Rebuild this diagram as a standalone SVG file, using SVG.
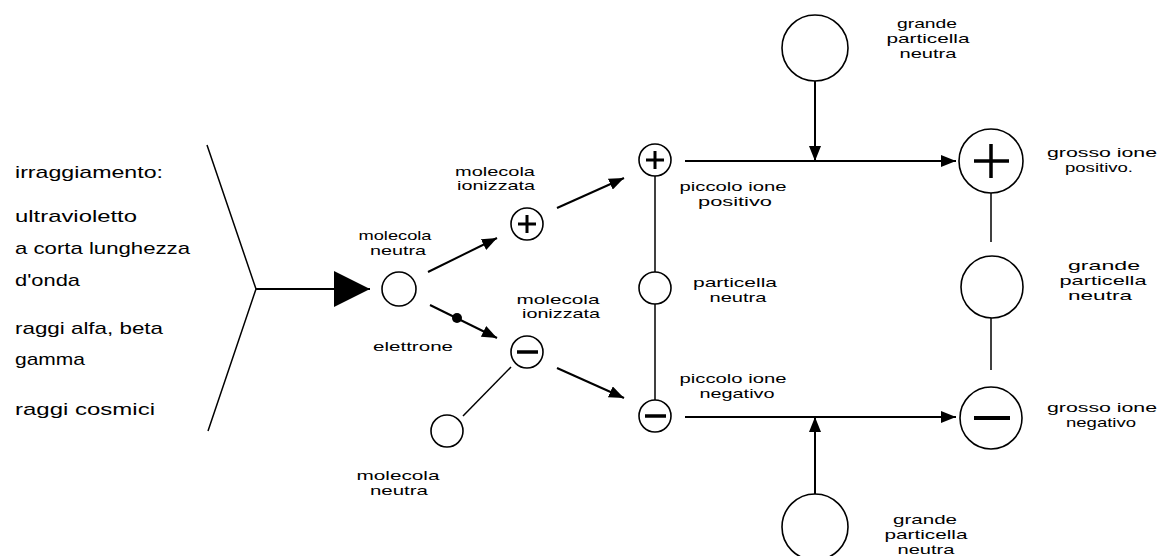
<svg xmlns="http://www.w3.org/2000/svg" width="1159" height="556" viewBox="0 0 1159 556">
<defs>
<style>
.bg{fill:#fff}
.c{fill:#fff;stroke:#000;stroke-width:1.6}
.sign{stroke:#000;fill:none}
.ln{stroke:#000;stroke-width:2;fill:none}
.thin{stroke:#000;stroke-width:1.5;fill:none}
.t{font-family:"Liberation Sans",Arial,sans-serif;font-size:17px;fill:#000}
.l{font-family:"Liberation Sans",Arial,sans-serif;font-size:13px;fill:#000;text-anchor:middle}
</style>
<marker id="ah" markerUnits="userSpaceOnUse" markerWidth="16" markerHeight="12" refX="15" refY="6" orient="auto">
<path d="M0,0 L15,6 L0,12 Z" fill="#000"/>
</marker>
<marker id="big" markerUnits="userSpaceOnUse" markerWidth="38" markerHeight="36" refX="36" refY="18" orient="auto">
<path d="M0,0 L36,18 L0,36 Z" fill="#000"/>
</marker>
</defs>
<rect class="bg" x="0" y="0" width="1159" height="556"/>

<g id="radiation-text">
<text class="t" x="15" y="178" textLength="148" lengthAdjust="spacingAndGlyphs">irraggiamento:</text>
<text class="t" x="15" y="222" textLength="122" lengthAdjust="spacingAndGlyphs">ultravioletto</text>
<text class="t" x="15" y="254" textLength="175" lengthAdjust="spacingAndGlyphs">a corta lunghezza</text>
<text class="t" x="15" y="286" textLength="65" lengthAdjust="spacingAndGlyphs">d'onda</text>
<text class="t" x="15" y="334" textLength="148" lengthAdjust="spacingAndGlyphs">raggi alfa, beta</text>
<text class="t" x="15" y="365" textLength="70" lengthAdjust="spacingAndGlyphs">gamma</text>
<text class="t" x="15" y="415" textLength="140" lengthAdjust="spacingAndGlyphs">raggi cosmici</text>
</g>

<g id="connectors">
<polyline class="thin" points="207,145 256,289 208,431"/>
<line class="ln" x1="256" y1="289" x2="370" y2="289" marker-end="url(#big)"/>
<line class="ln" x1="428" y1="272" x2="497" y2="238" marker-end="url(#ah)"/>
<line class="ln" x1="430" y1="305" x2="497" y2="338" marker-end="url(#ah)"/>
<circle cx="457" cy="318" r="5" fill="#000"/>
<line class="thin" x1="511" y1="367" x2="463" y2="416"/>
<line class="ln" x1="557" y1="208" x2="624" y2="178" marker-end="url(#ah)"/>
<line class="ln" x1="557" y1="368" x2="624" y2="398" marker-end="url(#ah)"/>
<line class="thin" x1="655" y1="176" x2="655" y2="272"/>
<line class="thin" x1="655" y1="304" x2="655" y2="400"/>
<line class="ln" x1="685" y1="161" x2="956" y2="161" marker-end="url(#ah)"/>
<line class="ln" x1="815" y1="81" x2="815" y2="161" marker-end="url(#ah)"/>
<line class="ln" x1="685" y1="417" x2="956" y2="417" marker-end="url(#ah)"/>
<line class="ln" x1="815" y1="494" x2="815" y2="417" marker-end="url(#ah)"/>
<line class="thin" x1="991" y1="193" x2="991" y2="242"/>
<line class="thin" x1="991" y1="318" x2="991" y2="370"/>
</g>

<g id="molecola-neutra-1">
<circle class="c" cx="399" cy="289" r="17"/>
<text class="l" x="395" y="240" textLength="73" lengthAdjust="spacingAndGlyphs">molecola</text>
<text class="l" x="398" y="255" textLength="56" lengthAdjust="spacingAndGlyphs">neutra</text>
</g>

<g id="molecola-ionizzata-pos">
<circle class="c" cx="527" cy="224" r="16"/>
<path class="sign" stroke-width="3" d="M518,224 H536 M527,215 V233"/>
<text class="l" x="495" y="176" textLength="80" lengthAdjust="spacingAndGlyphs">molecola</text>
<text class="l" x="496" y="190" textLength="78" lengthAdjust="spacingAndGlyphs">ionizzata</text>
</g>

<g id="molecola-ionizzata-neg">
<circle class="c" cx="527" cy="352" r="16"/>
<path class="sign" stroke-width="3.5" d="M517,352 H538"/>
<text class="l" x="558" y="304" textLength="83" lengthAdjust="spacingAndGlyphs">molecola</text>
<text class="l" x="561" y="318" textLength="78" lengthAdjust="spacingAndGlyphs">ionizzata</text>
</g>

<g id="elettrone">
<text class="l" x="413" y="351" textLength="80" lengthAdjust="spacingAndGlyphs">elettrone</text>
</g>

<g id="molecola-neutra-2">
<circle class="c" cx="447" cy="431" r="16"/>
<text class="l" x="398" y="480" textLength="83" lengthAdjust="spacingAndGlyphs">molecola</text>
<text class="l" x="399" y="495" textLength="58" lengthAdjust="spacingAndGlyphs">neutra</text>
</g>

<g id="piccolo-ione-positivo">
<circle class="c" cx="655" cy="160" r="16"/>
<path class="sign" stroke-width="3" d="M646,160 H664 M655,151 V169"/>
<text class="l" x="733" y="191" textLength="107" lengthAdjust="spacingAndGlyphs">piccolo ione</text>
<text class="l" x="735" y="206" textLength="74" lengthAdjust="spacingAndGlyphs">positivo</text>
</g>

<g id="particella-neutra">
<circle class="c" cx="655" cy="288" r="16"/>
<text class="l" x="735" y="287" textLength="84" lengthAdjust="spacingAndGlyphs">particella</text>
<text class="l" x="738" y="302" textLength="57" lengthAdjust="spacingAndGlyphs">neutra</text>
</g>

<g id="piccolo-ione-negativo">
<circle class="c" cx="655" cy="416" r="16"/>
<path class="sign" stroke-width="3.5" d="M645,416 H666"/>
<text class="l" x="733" y="383" textLength="107" lengthAdjust="spacingAndGlyphs">piccolo ione</text>
<text class="l" x="737" y="398" textLength="75" lengthAdjust="spacingAndGlyphs">negativo</text>
</g>

<g id="grande-particella-top">
<circle class="c" cx="815" cy="48" r="33"/>
<text class="l" x="927" y="28" textLength="60" lengthAdjust="spacingAndGlyphs">grande</text>
<text class="l" x="928" y="43" textLength="83" lengthAdjust="spacingAndGlyphs">particella</text>
<text class="l" x="928" y="58" textLength="57" lengthAdjust="spacingAndGlyphs">neutra</text>
</g>

<g id="grande-particella-bottom">
<circle class="c" cx="815" cy="527" r="33"/>
<text class="l" x="925" y="524" textLength="64" lengthAdjust="spacingAndGlyphs">grande</text>
<text class="l" x="926" y="539" textLength="83" lengthAdjust="spacingAndGlyphs">particella</text>
<text class="l" x="926" y="554" textLength="57" lengthAdjust="spacingAndGlyphs">neutra</text>
</g>

<g id="grosso-ione-positivo">
<circle class="c" cx="991" cy="161" r="32"/>
<path class="sign" stroke-width="3.5" d="M974,161 H1009 M991,144 V178"/>
<text class="l" x="1102" y="157" textLength="110" lengthAdjust="spacingAndGlyphs">grosso ione</text>
<text class="l" x="1099" y="172" textLength="68" lengthAdjust="spacingAndGlyphs">positivo.</text>
</g>

<g id="grande-particella-neutra">
<circle class="c" cx="992" cy="287" r="31"/>
<text class="l" x="1104" y="270" textLength="72" lengthAdjust="spacingAndGlyphs">grande</text>
<text class="l" x="1103" y="285" textLength="87" lengthAdjust="spacingAndGlyphs">particella</text>
<text class="l" x="1100" y="300" textLength="64" lengthAdjust="spacingAndGlyphs">neutra</text>
</g>

<g id="grosso-ione-negativo">
<circle class="c" cx="991" cy="418" r="31"/>
<path class="sign" stroke-width="4" d="M974,418 H1010"/>
<text class="l" x="1102" y="412" textLength="110" lengthAdjust="spacingAndGlyphs">grosso ione</text>
<text class="l" x="1101" y="427" textLength="70" lengthAdjust="spacingAndGlyphs">negativo</text>
</g>
</svg>
